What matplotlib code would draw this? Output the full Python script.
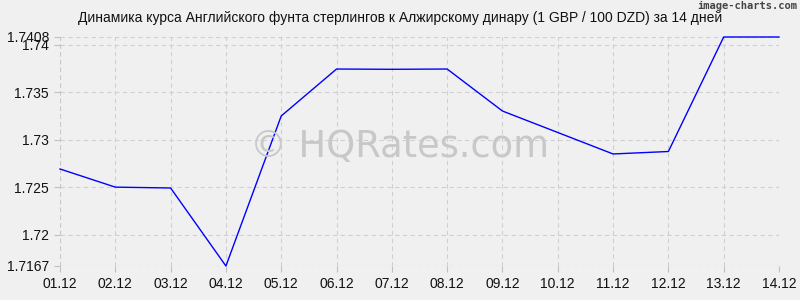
import matplotlib
matplotlib.use("Agg")
import matplotlib.pyplot as plt

dates = ["01.12", "02.12", "03.12", "04.12", "05.12", "06.12", "07.12",
         "08.12", "09.12", "10.12", "11.12", "12.12", "13.12", "14.12"]
rates = [1.72691, 1.7250, 1.72491, 1.7167, 1.73249, 1.73743, 1.7374,
         1.73743, 1.73301, 1.73075, 1.72849, 1.72875, 1.7408, 1.7408]
yticks = [1.7167, 1.72, 1.725, 1.73, 1.735, 1.74, 1.7408]
ytick_labels = ["1.7167", "1.72", "1.725", "1.73", "1.735", "1.74", "1.7408"]
title = "Динамика курса Английского фунта стерлингов к Алжирскому динару (1 GBP / 100 DZD) за 14 дней"

plt.rcParams['font.family'] = ['Liberation Sans', 'DejaVu Sans']
bg = "#f0f0f0"
fig = plt.figure(figsize=(8, 3), dpi=100, facecolor=bg)
ax = fig.add_axes([60/800, 34/300, 719/800, 229/300], facecolor=bg)

x = list(range(len(dates)))
ax.plot(x, rates, color="#0000ff", lw=1.0, zorder=5, clip_on=False)

ax.set_xlim(0, len(dates) - 1)
ax.set_ylim(min(yticks), max(yticks))
ax.set_xticks(x)
ax.set_xticklabels(dates, fontsize=10)
ax.set_yticks(yticks)
ax.set_yticklabels(ytick_labels, fontsize=10)
ax.grid(True, color="#d0d0d0", linestyle=(0, (4, 3)), lw=0.8, zorder=0)
ax.set_axisbelow(True)
for s in ax.spines.values():
    s.set_visible(False)
ax.tick_params(axis="both", length=4, color="#c0c0c0", width=0.8, pad=4, labelcolor="#111111")
ax.axvline(0, color="#c8c8c8", linestyle=(0, (4, 3)), lw=0.8, zorder=1)
ax.axhline(min(yticks), color="#c8c8c8", linestyle=(0, (4, 3)), lw=0.8, zorder=1)

fig.text(0.5, 1 - 18/300, title, ha="center", va="center", fontsize=10, color="#111111")
fig.text(0.5, 1 - 147/300, "© HQRates.com", ha="center", va="center", fontsize=26.5,
         color="#c8c8c8", family="DejaVu Sans", zorder=2)
fig.text(797/800, 1 - 6/300, "image-charts.com", ha="right", va="center", fontsize=7.5,
         color="#444444", family="DejaVu Sans Mono", fontweight="bold")

fig.savefig("out.png", dpi=100, facecolor=bg)
